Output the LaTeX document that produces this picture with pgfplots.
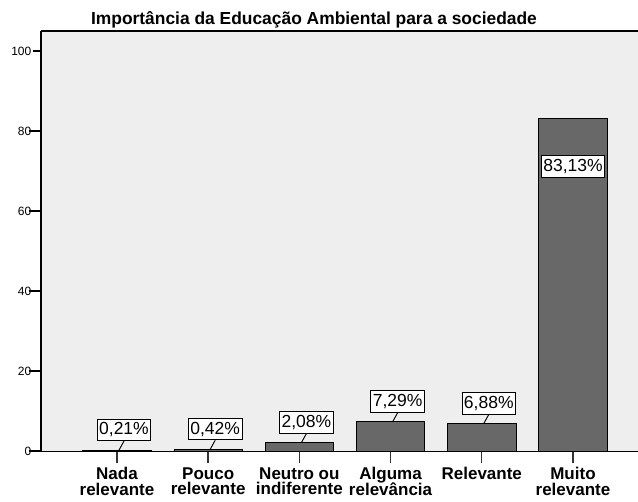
\documentclass[border=0pt]{standalone}
\usepackage{pgfplots}
\pgfplotsset{compat=1.18}
\usepackage{fontspec}
\setmainfont{Liberation Sans}

\definecolor{panel}{RGB}{238,238,238}
\definecolor{barfill}{RGB}{104,104,104}
\newcommand\catfont{\bfseries\fontsize{17bp}{15.5bp}\selectfont\lineskiplimit=-20bp\relax}

\begin{document}
\begin{tikzpicture}
\begin{axis}[
  at={(41bp,51bp)}, anchor=south west,
  scale only axis, width=620bp, height=420bp,
  xmin=-0.833, xmax=5.965, ymin=0, ymax=105,
  ybar, bar width=0.75, bar shift=0pt,
  axis x line*=bottom, axis y line*=left,
  x axis line style={line width=1bp},
  y axis line style={line width=2bp},
  axis background/.style={fill=panel},
  xtick={0,...,5},
  xticklabels={{Nada\\relevante},{Pouco\\relevante},{Neutro ou\\indiferente},
               {Alguma\\relevância},{Relevante},{Muito\\relevante}},
  xticklabel style={align=center, yshift=-1bp, font=\catfont},
  ytick={0,20,...,100},
  yticklabel style={font=\fontsize{12bp}{14bp}\selectfont, inner xsep=0.5bp, xshift=3bp},
  tick align=outside, major tick length=12bp,
  xtick style={line width=1.4bp, black!80},
  ytick style={line width=1.4bp, black, shorten <=4bp},
  /pgf/number format/assume math mode=true,
  nodes near coords={\pgfmathprintnumber[fixed,fixed zerofill,precision=2,use comma]{\pgfplotspointmeta}\%},
  every node near coord/.append style={font=\fontsize{17.5bp}{19bp}\selectfont,
    draw=black, line width=0.9bp, fill=white, inner xsep=2bp, inner ysep=3.5bp},
]
\addplot[fill=barfill, draw=black, line width=0.9bp,
  every node near coord/.append style={anchor=south, xshift=7bp, yshift=9bp,
    append after command={(\tikzlastnode.south) edge[black, line width=0.9bp] ++(-5bp,-9bp)}}]
  coordinates {(0,0.21) (1,0.42) (2,2.08) (3,7.29) (4,6.88)};
\addplot[fill=barfill, draw=black, line width=0.9bp,
  every node near coord/.append style={anchor=center, yshift=-48bp}]
  coordinates {(5,83.13)};
\draw[line width=1.4bp] (rel axis cs:0,1) -- (rel axis cs:1,1);
\end{axis}
\node[anchor=base, font=\bfseries\fontsize{17.4bp}{19bp}\selectfont] at (314bp,477bp)
  {Importância da Educação Ambiental para a sociedade};
\pgfresetboundingbox
\path[use as bounding box] (0,0) rectangle (638bp,502bp);
\end{tikzpicture}
\end{document}
